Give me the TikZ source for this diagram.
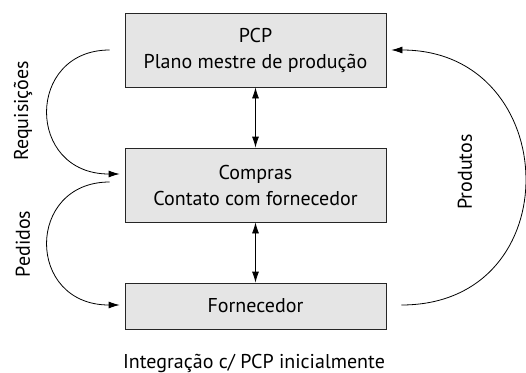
\documentclass[tikz,border=0pt]{standalone}
\usepackage{fontspec}
\setmainfont{PT Sans}
\usetikzlibrary{arrows.meta}

\begin{document}
\begin{tikzpicture}[x=1pt, y=-1pt,
		caixa/.style={draw=black!85, line width=0.8pt, fill=black!10, inner sep=0pt, align=center},
		seta/.style={line width=0.8pt, -{Latex[length=11pt,width=7pt]}},
		duplaseta/.style={line width=0.8pt, {Latex[length=11pt,width=7pt]}-{Latex[length=11pt,width=7pt]}},
		rotulo/.style={rotate=90, inner sep=0pt},
		font=\fontsize{20}{26}\selectfont]
			%%%%% START %%%%%
			
			\useasboundingbox (0, 0) rectangle (526, 372);
			
			\node[caixa, minimum width=261, minimum height=74] (pcp) at (255.5, 50) {PCP\\Plano mestre de produção};
			\node[caixa, minimum width=261, minimum height=74] (compras) at (255.5, 185) {Compras\\Contato com fornecedor};
			\node[caixa, minimum width=261, minimum height=46] (fornecedor) at (255.5, 306) {Fornecedor};
			
			\draw[duplaseta] (pcp.south) -- (compras.north);
			\draw[duplaseta] (compras.south) -- (fornecedor.north);
			
			\draw[seta] ([xshift=-15pt]pcp.west) .. controls +(-84, 0) and +(-94, 0) .. ([xshift=-5pt, yshift=11pt]compras.west);
			\draw[seta] ([xshift=-15pt, yshift=3pt]compras.west) .. controls +(-84, 0) and +(-94, 0) .. ([xshift=-5pt, yshift=1pt]fornecedor.west);
			\draw[seta] ([xshift=15pt, yshift=1pt]fornecedor.east) .. controls +(170, 0) and +(172, 0) .. ([xshift=5pt]pcp.east);
			
			\node[rotulo] (requisicoes) at (23, 111) {Requisições};
			\node[rotulo] (pedidos) at (23, 244) {Pedidos};
			\node[rotulo] (produtos) at (465, 172) {Produtos};
			
			\node[anchor=base] (legenda) at (254, 368) {Integração c/ PCP inicialmente};
			
			%%%%% END %%%%%
		\end{tikzpicture}
\end{document}
